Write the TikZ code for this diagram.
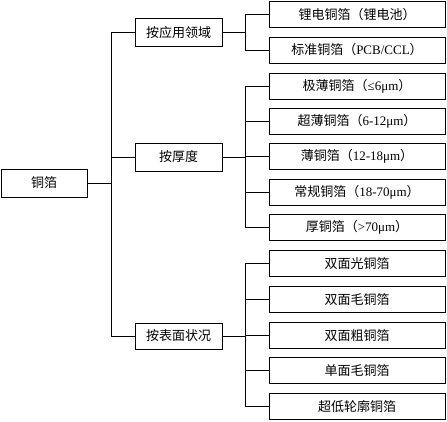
\documentclass[tikz,border=0pt]{standalone}
\usepackage{fontspec}
\setmainfont{Liberation Serif}
\newfontfamily\cjk{Noto Sans CJK SC}
\begin{document}
\begin{tikzpicture}[x=1pt,y=-1pt,
  every node/.style={inner sep=0pt,font=\fontsize{13}{15}\selectfont},
  catbox/.style={draw,line width=0.9pt,minimum width=87pt,minimum height=28pt},
  leafbox/.style={draw,line width=0.9pt,minimum width=176pt,minimum height=26pt},
  link/.style={line width=0.9pt}]
\useasboundingbox (0,0) rectangle (447,422);
\node[draw,line width=0.9pt,minimum width=86pt,minimum height=28pt] (root) at (44,183) {\cjk 铜箔};
\node[catbox] (a) at (178.5,32.5) {\cjk 按应用领域};
\node[catbox] (b) at (178.5,157) {\cjk 按厚度};
\node[catbox,minimum height=26pt] (c) at (178.5,336) {\cjk 按表面状况};
\node[leafbox] (a1) at (357,14.5) {\cjk 锂电铜箔（锂电池）};
\node[leafbox] (a2) at (357,50) {{\cjk 标准铜箔（}PCB/CCL{\cjk ）}};
\node[leafbox] (b1) at (357,86) {{\cjk 极薄铜箔（}≤6μm{\cjk ）}};
\node[leafbox] (b2) at (357,121) {{\cjk 超薄铜箔（}6-12μm{\cjk ）}};
\node[leafbox] (b3) at (357,156) {{\cjk 薄铜箔（}12-18μm{\cjk ）}};
\node[leafbox] (b4) at (357,192) {{\cjk 常规铜箔（}18-70μm{\cjk ）}};
\node[leafbox] (b5) at (357,227.5) {{\cjk 厚铜箔（}>70μm{\cjk ）}};
\node[leafbox] (c1) at (357,263.5) {\cjk 双面光铜箔};
\node[leafbox] (c2) at (357,299.5) {\cjk 双面毛铜箔};
\node[leafbox] (c3) at (357,335.5) {\cjk 双面粗铜箔};
\node[leafbox] (c4) at (357,370.5) {\cjk 单面毛铜箔};
\node[leafbox] (c5) at (357,406.5) {\cjk 超低轮廓铜箔};
\coordinate (j0) at (111,183);
\coordinate (j1) at (245,0);
% main trunk
\draw[link] (root.east) -- (j0);
\draw[link] (a.west) -- (a.west -| j0) -- (c.west -| j0) -- (c.west);
\draw[link] (b.west) -- (b.west -| j0);
% group 1
\draw[link] (a.east) -- (a.east -| j1);
\draw[link] (a1.west) -- (a1.west -| j1) -- (a2.west -| j1) -- (a2.west);
% group 2
\draw[link] (b.east) -- (b.east -| j1);
\draw[link] (b1.west) -- (b1.west -| j1) -- (b5.west -| j1) -- (b5.west);
\foreach \n in {b2,b3,b4} \draw[link] (\n.west) -- (\n.west -| j1);
% group 3
\draw[link] (c.east) -- (c.east -| j1);
\draw[link] (c1.west) -- (c1.west -| j1) -- (c5.west -| j1) -- (c5.west);
\foreach \n in {c2,c3,c4} \draw[link] (\n.west) -- (\n.west -| j1);
\end{tikzpicture}
\end{document}
